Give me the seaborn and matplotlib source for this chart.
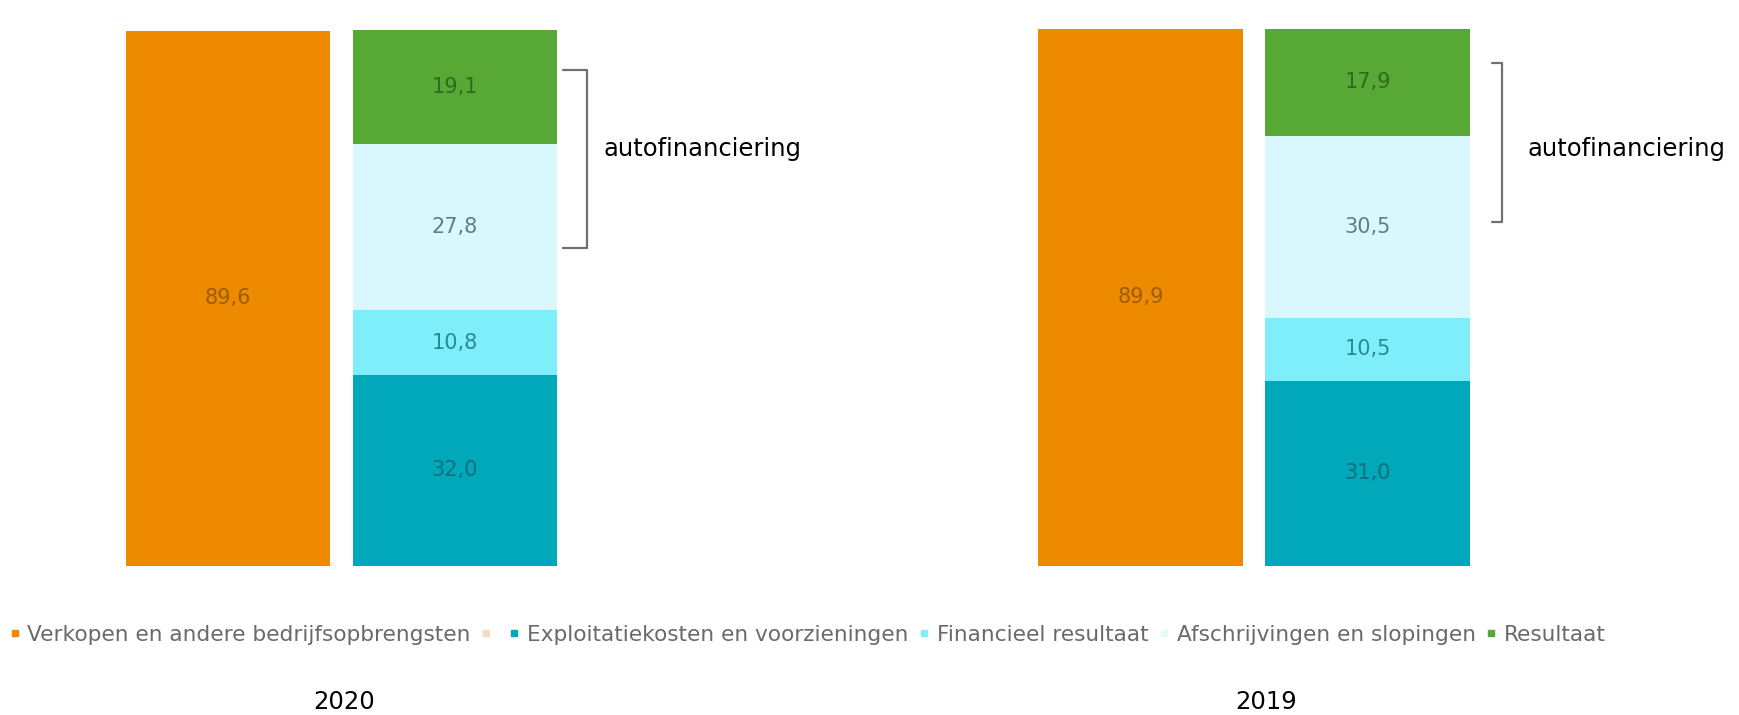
import pandas as pd
import numpy as np
import matplotlib.pyplot as plt
from matplotlib.lines import Line2D
import seaborn as sns

# data
years = ["2020", "2019"]
verkopen = [89.6, 89.9]
exploitatie = [32.0, 31.0]
financieel = [10.8, 10.5]
afschrijvingen = [27.8, 30.5]
resultaat = [19.1, 17.9]

posten = ["Verkopen en andere bedrijfsopbrengsten",
          "Exploitatiekosten en voorzieningen",
          "Financieel resultaat",
          "Afschrijvingen en slopingen",
          "Resultaat"]
kleuren = ["#EE8A00", "#00A8BA", "#7EEFFA", "#D8F8FD", "#57A835"]
label_kleuren = ["#9B5D08", "#11707C", "#2B8995", "#5D7F86", "#2E6B20"]

sns.set_theme(style="white")
plt.rcParams["font.family"] = ["DejaVu Sans"]

fig = plt.figure(figsize=(17.4, 7.15), dpi=100)
W, H = 1740, 715


def fx(px):
    return px / W


def fy(py):
    return 1 - py / H


# axes geometry (pixels): bars bottom at 566 px, 5.975 px per unit
bottom_px = 566
unit_px = 227
ymax = bottom_px / 5.975
panels = [
    {"left": 0, "first_center": 228},
    {"left": 870, "first_center": 270.5},
]

for i, year in enumerate(years):
    stack = [exploitatie[i], financieel[i], afschrijvingen[i], resultaat[i]]
    cum = np.cumsum(stack)
    df = pd.DataFrame({
        "kolom": ["omzet"] + ["kosten"] * 4,
        "post": posten,
        "waarde": [verkopen[i]] + stack,
        "cum": [verkopen[i]] + list(cum),
    })
    p = panels[i]
    ax = fig.add_axes([fx(p["left"]), fy(bottom_px), 0.5, bottom_px / H])
    # draw cumulative heights, tallest first, so segments stack visually
    hue_order = [posten[0]] + posten[1:][::-1]
    sns.barplot(data=df, x="kolom", y="cum", hue="post", hue_order=hue_order,
                order=["omzet", "kosten"], dodge=False, width=0.9,
                palette=dict(zip(posten, kleuren)), saturation=1,
                linewidth=0, legend=False, ax=ax)
    xmin = -p["first_center"] / unit_px
    ax.set_xlim(xmin, xmin + 870 / unit_px)
    ax.set_ylim(0, ymax)
    ax.axis("off")

    # value labels with decimal comma
    for j, row in df.iterrows():
        xpos = 0 if row["kolom"] == "omzet" else 1
        ax.text(xpos, row["cum"] - row["waarde"] / 2,
                f"{row['waarde']:.1f}".replace(".", ","),
                ha="center", va="center", fontsize=15,
                color=label_kleuren[posten.index(row["post"])])

    # year below the panel
    fig.text(fx([344, 1266][i]), fy(702), year, ha="center", va="center",
             fontsize=17.5, color="black")

# brackets for autofinanciering
brackets = [
    [(563, 70), (587, 70), (587, 248), (563, 248)],
    [(1492, 63), (1502, 63), (1502, 222), (1492, 222)],
]
for pts in brackets:
    xs = [fx(a) for a, b in pts]
    ys = [fy(b) for a, b in pts]
    fig.add_artist(Line2D(xs, ys, transform=fig.transFigure,
                          color="#707070", lw=1.6))
fig.text(fx(604), fy(149), "autofinanciering", ha="left", va="center",
         fontsize=17.5, color="black")
fig.text(fx(1528), fy(149), "autofinanciering", ha="left", va="center",
         fontsize=17.5, color="black")

# legend (second entry is an empty, pale marker as in the source)
handles = []
labels = []
leg_items = [(posten[0], kleuren[0]), ("", "#F5DCC4"),
             (posten[1], kleuren[1]), (posten[2], kleuren[2]),
             (posten[3], "#E3FAFD"), (posten[4], kleuren[4])]
for lab, col in leg_items:
    handles.append(Line2D([], [], marker="s", linestyle="", markersize=5,
                          markerfacecolor=col, markeredgecolor=col))
    labels.append(lab)
leg = fig.legend(handles, labels, loc="center left",
                 bbox_to_anchor=(fx(8), fy(635)), ncol=6, frameon=False,
                 fontsize=15.6, handlelength=0.6, handletextpad=0.3,
                 columnspacing=0.4, borderaxespad=0, borderpad=0)
for t in leg.get_texts():
    t.set_color("#6A6A6A")

fig.savefig("out.png", dpi=100)
